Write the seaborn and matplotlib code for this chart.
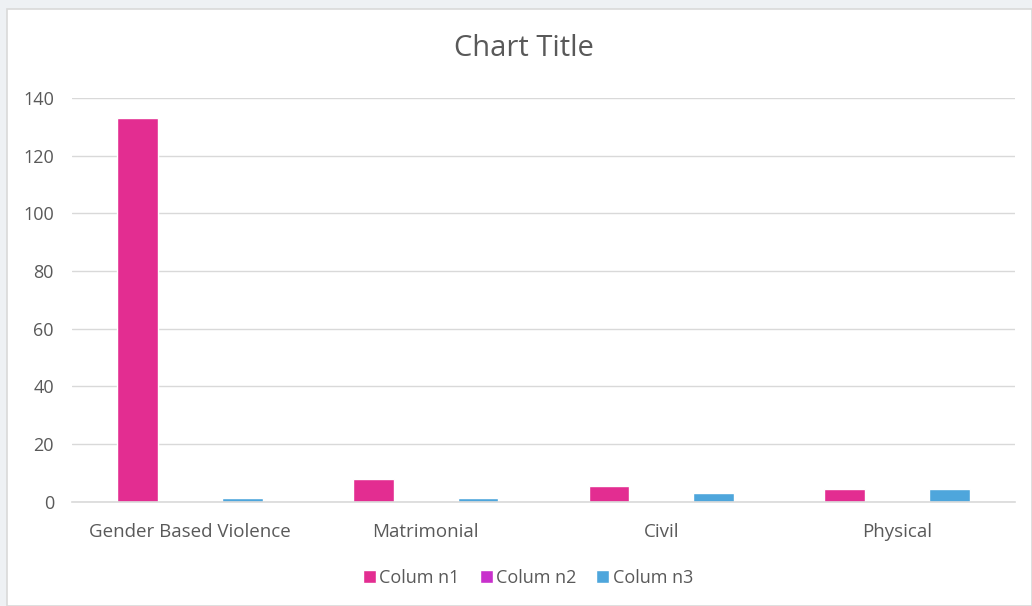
import matplotlib
matplotlib.use("Agg")
import matplotlib.pyplot as plt
import seaborn as sns
import pandas as pd
from matplotlib.patches import Rectangle

categories = ["Gender Based Violence", "Matrimonial", "Civil", "Physical"]
column1 = [133, 8, 5.5, 4.5]
column2 = [0, 0, 0, 0]
column3 = [1.2, 1.2, 3, 4.5]
series = ["Column1", "Column2", "Column3"]
colors = ["#E32D91", "#C830CC", "#4EA6DC"]
title = "Chart Title"
yticks = [0, 20, 40, 60, 80, 100, 120, 140]

rows = []
for name, vals in zip(series, [column1, column2, column3]):
    for c, v in zip(categories, vals):
        rows.append({"category": c, "series": name, "value": v})
df = pd.DataFrame(rows)

sns.set_theme(style="white")
plt.rcParams["font.family"] = ["Open Sans", "DejaVu Sans"]

fig = plt.figure(figsize=(10.32, 6.06), dpi=100)
fig.patch.set_facecolor("#EEF1F4")
bg = Rectangle((7/1032, 0), 1 - 7/1032, 1 - 9/606, transform=fig.transFigure,
               facecolor="white", edgecolor="#D9D9D9", linewidth=1.2, zorder=-10)
fig.patches.append(bg)

ax = fig.add_axes([72/1032, 1 - 501.7/606, (1015 - 72)/1032, (501.7 - 98)/606])
ax.set_facecolor("none")
sns.barplot(data=df, x="category", y="value", hue="series", palette=colors,
            width=0.667, gap=0.22, ax=ax, legend=True, saturation=1)

ax.set_ylim(0, 140)
ax.set_yticks(yticks)
ax.yaxis.grid(True, color="#D9D9D9", linewidth=1)
ax.set_axisbelow(True)
for s in ["left", "right", "top"]:
    ax.spines[s].set_visible(False)
ax.spines["bottom"].set_color("#D9D9D9")
ax.spines["bottom"].set_linewidth(1.2)
ax.tick_params(axis="y", length=0, colors="#595959", labelsize=13, pad=13)
ax.tick_params(axis="x", length=0, colors="#595959", labelsize=13.5, pad=15.5)
ax.set_xlabel("")
ax.set_ylabel("")

fig.text(524/1032, 1 - 48.5/606, title, ha="center", va="center", fontsize=21, color="#595959")

handles, labels = ax.get_legend_handles_labels()
ax.legend(handles, ["Colum n1", "Colum n2", "Colum n3"], loc="center",
          bbox_to_anchor=((528 - 72) / (1015 - 72), (578 - 501.7) / -(501.7 - 98)),
          ncol=3, frameon=False, fontsize=13, labelcolor="#595959", handlelength=0.72, handleheight=0.72,
          handletextpad=0.2, columnspacing=1.1)

fig.savefig("out.png", dpi=100, facecolor=fig.get_facecolor())
